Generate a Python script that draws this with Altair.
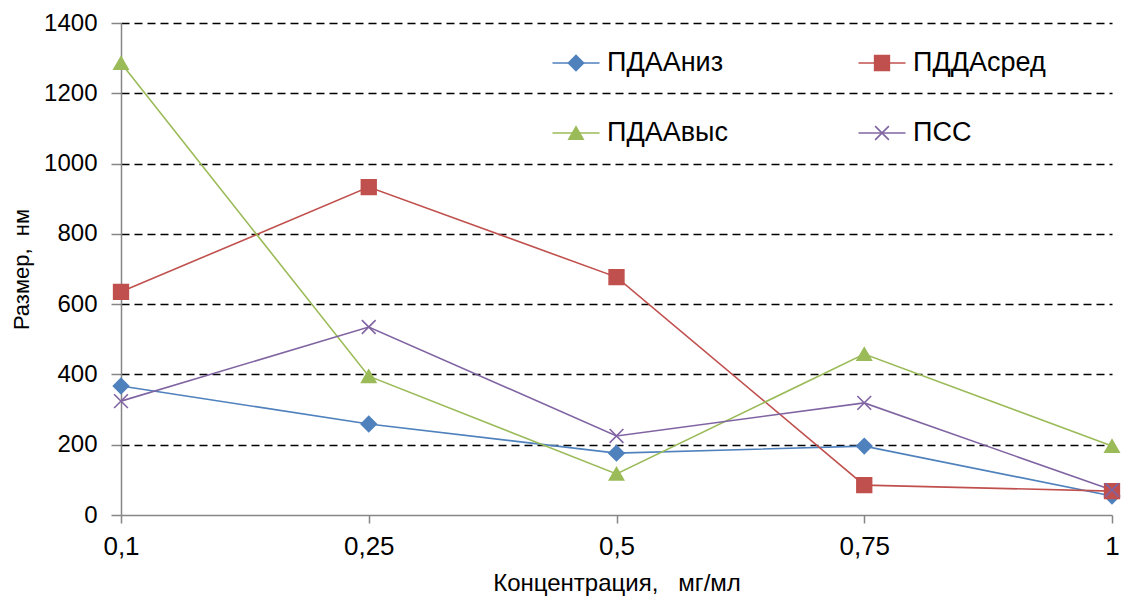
import altair as alt
import pandas as pd

conc = ["0,1", "0,25", "0,5", "0,75", "1"]
series = ["ПДААниз", "ПДДАсред", "ПДААвыс", "ПСС"]
v_niz = [367, 259, 176, 196, 54]
v_sred = [635, 933, 677, 85, 68]
v_vys = [1286, 395, 117, 458, 196]
v_pss = [324, 535, 225, 319, 71]
y_ticks = [0, 200, 400, 600, 800, 1000, 1200, 1400]

colors = ["#4F81BD", "#C0504D", "#9BBB59", "#8064A2"]
shapes = ["diamond", "square", "triangle-up", "M-1,-1L1,1M-1,1L1,-1"]
sizes = [230, 190, 230, 240]

rows = []
for name, vals in zip(series, [v_niz, v_sred, v_vys, v_pss]):
    for c, v in zip(conc, vals):
        rows.append({"conc": c, "series": name, "value": v})
df = pd.DataFrame(rows)

leg = pd.DataFrame({
    "series": series,
    "col": [0, 1, 0, 1],
    "row": [0, 0, 1, 1],
})

FONT = "Liberation Sans"
AXC = "#868686"

color_sc = alt.Scale(domain=series, range=colors)
shape_sc = alt.Scale(domain=series, range=shapes)
size_sc = alt.Scale(domain=series, range=sizes)

x_enc = alt.X(
    "conc:N", sort=conc, scale=alt.Scale(padding=0),
    axis=alt.Axis(
        title="Концентрация,\u00a0\u00a0\u00a0мг/мл", labelAngle=0, domainColor=AXC, tickColor=AXC,
        tickSize=8, labelPadding=10, labelFont=FONT, labelFontSize=26,
        labelColor="#000", titleFont=FONT, titleFontSize=24, titleFontWeight="normal",
        titleColor="#000", titlePadding=12, grid=False, domainWidth=1.5, tickWidth=1.5,
    ),
)
y_enc = alt.Y(
    "value:Q", scale=alt.Scale(domain=[0, 1400], nice=False),
    axis=alt.Axis(
        title="Размер,\u00a0\u00a0нм", values=y_ticks, format="d", domainColor=AXC, tickColor=AXC,
        tickSize=10, labelPadding=14, labelFont=FONT, labelFontSize=24, labelColor="#000",
        titleFont=FONT, titleFontSize=22, titleFontWeight="normal", titleColor="#000",
        titlePadding=10, grid=True, gridColor="#000", gridDash=[8, 5], gridWidth=1.4,
        gridOpacity=alt.condition(alt.datum.value == 0, alt.value(0), alt.value(1)),
        domainWidth=1.5, tickWidth=1.5,
    ),
)

lines = alt.Chart(df).mark_line(strokeWidth=1.6).encode(
    x=x_enc, y=y_enc,
    color=alt.Color("series:N", scale=color_sc, legend=None),
    detail="series:N",
)
pts = alt.Chart(df).mark_point(filled=True, opacity=1, strokeWidth=1.6).encode(
    x=alt.X("conc:N", sort=conc, scale=alt.Scale(padding=0)),
    y="value:Q",
    color=alt.Color("series:N", scale=color_sc, legend=None),
    stroke=alt.Stroke("series:N", scale=color_sc, legend=None),
    shape=alt.Shape("series:N", scale=shape_sc, legend=None),
    size=alt.Size("series:N", scale=size_sc, legend=None),
)
main = alt.layer(lines, pts)

lx = alt.X("col:Q", scale=alt.Scale(domain=[0, 1], range=[455, 761]), axis=None)
ly = alt.Y("row:Q", scale=alt.Scale(domain=[0, 1], range=[40, 110]), axis=None)

leg_line = alt.Chart(leg).mark_point(shape="stroke", size=47 * 47, strokeWidth=1.6, filled=False, opacity=1).encode(
    x=lx, y=ly, color=alt.Color("series:N", scale=color_sc, legend=None),
)
leg_pts = alt.Chart(leg).mark_point(filled=True, opacity=1, strokeWidth=1.6).encode(
    x=lx, y=ly,
    color=alt.Color("series:N", scale=color_sc, legend=None),
    stroke=alt.Stroke("series:N", scale=color_sc, legend=None),
    shape=alt.Shape("series:N", scale=shape_sc, legend=None),
    size=alt.Size("series:N", scale=size_sc, legend=None),
)
leg_txt = alt.Chart(leg).mark_text(align="left", baseline="middle", dx=31, font=FONT, fontSize=27, color="#000").encode(
    x=lx, y=ly, text="series:N",
)
legend = alt.layer(leg_line, leg_pts, leg_txt)

chart = alt.layer(main, legend).resolve_scale(x="independent", y="independent").properties(
    width=991, height=492,
    autosize=alt.AutoSizeParams(type="none"),
    padding={"left": 121, "top": 23, "right": 18, "bottom": 93},
).configure(background="white", view=alt.ViewConfig(stroke=None))

chart.save("out.html", embed_options={"renderer": "svg", "actions": False})
